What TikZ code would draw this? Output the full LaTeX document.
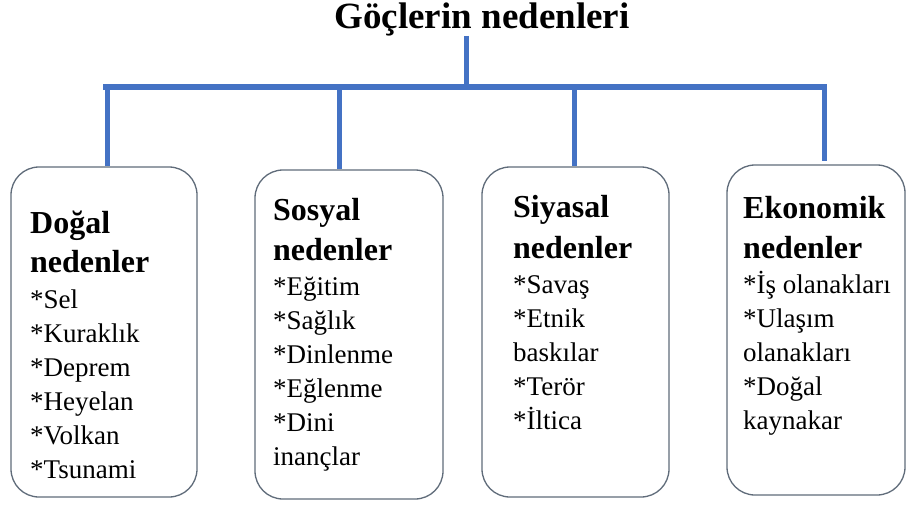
\documentclass[tikz,border=0pt]{standalone}
\usepackage{fontspec}
\setmainfont{LiberationSerif}[Extension=.ttf, UprightFont=*-Regular, BoldFont=*-Bold, ItalicFont=*-Italic, BoldItalicFont=*-BoldItalic]
\definecolor{barblue}{RGB}{68,114,196}
\definecolor{boxgray}{RGB}{96,108,122}
\tikzset{
  boxnode/.style={draw=boxgray, line width=1.3pt, rounded corners=28pt, fill=white, inner sep=0pt},
  barline/.style={draw=barblue, line width=6pt},
  dropline/.style={draw=barblue, line width=5pt},
  headtext/.style={anchor=base west, inner sep=0pt, font=\fontsize{32}{39}\selectfont\bfseries},
  bodytext/.style={anchor=base west, inner sep=0pt, font=\fontsize{27}{34}\selectfont},
  titletext/.style={anchor=base, inner sep=0pt, font=\fontsize{37}{44}\selectfont\bfseries}
}
\begin{document}
\begin{tikzpicture}[x=1pt,y=1pt]
\useasboundingbox[fill=white] (0,0) rectangle (907,-504);

% title
\node[titletext] (T) at (482,-28) {Göçlerin nedenleri};

% boxes
\node[boxnode, minimum width=186pt, minimum height=330pt] (B1) at (104,-332) {};
\node[boxnode, minimum width=188pt, minimum height=329pt] (B2) at (349,-334.5) {};
\node[boxnode, minimum width=187pt, minimum height=330pt] (B3) at (575.5,-332) {};
\node[boxnode, minimum width=178pt, minimum height=330pt] (B4) at (816,-330) {};

% connectors
\coordinate (hub) at (466,-87);
\coordinate (hl) at (103,-87);
\coordinate (hr) at (827,-87);
\coordinate (d1) at (107,-87);
\coordinate (d2) at (339,-87);
\coordinate (d3) at (574,-87);
\coordinate (d4) at (824,-87);
\draw[dropline] (T.south -| hub) -- (hub);
\draw[barline] (hl) -- (hr);
\draw[dropline] (d1) -- (d1 |- B1.north);
\draw[dropline] (d2) -- (d2 |- B2.north);
\draw[dropline] (d3) -- (d3 |- B3.north);
\draw[dropline] (d4) -- ([yshift=3pt]d4 |- B4.north);

% box 1
\node[headtext] (h11) at (30,-233) {Doğal};
\node[headtext] (h12) at (30,-272) {nedenler};
\foreach \t [count=\i] in {*Sel,*Kuraklık,*Deprem,*Heyelan,*Volkan,*Tsunami}
  \node[bodytext] (a\i) at (30,{-(308+34*(\i-1))}) {\t};

% box 2
\node[headtext] (h21) at (273,-220) {Sosyal};
\node[headtext] (h22) at (273,-260) {nedenler};
\foreach \t [count=\i] in {*Eğitim,*Sağlık,*Dinlenme,*Eğlenme,*Dini,inançlar}
  \node[bodytext] (b\i) at (273,{-(295+34*(\i-1))}) {\t};

% box 3
\node[headtext] (h31) at (513,-217) {Siyasal};
\node[headtext] (h32) at (513,-258) {nedenler};
\foreach \t [count=\i] in {*Savaş,*Etnik,baskılar,*Terör,*İltica}
  \node[bodytext] (c\i) at (513,{-(293+34*(\i-1))}) {\t};

% box 4
\node[headtext] (h41) at (743,-218) {Ekonomik};
\node[headtext] (h42) at (743,-258) {nedenler};
\foreach \t [count=\i] in {*İş olanakları,*Ulaşım,olanakları,*Doğal,kaynakar}
  \node[bodytext] (e\i) at (743,{-(293+34*(\i-1))}) {\t};
\end{tikzpicture}
\end{document}
